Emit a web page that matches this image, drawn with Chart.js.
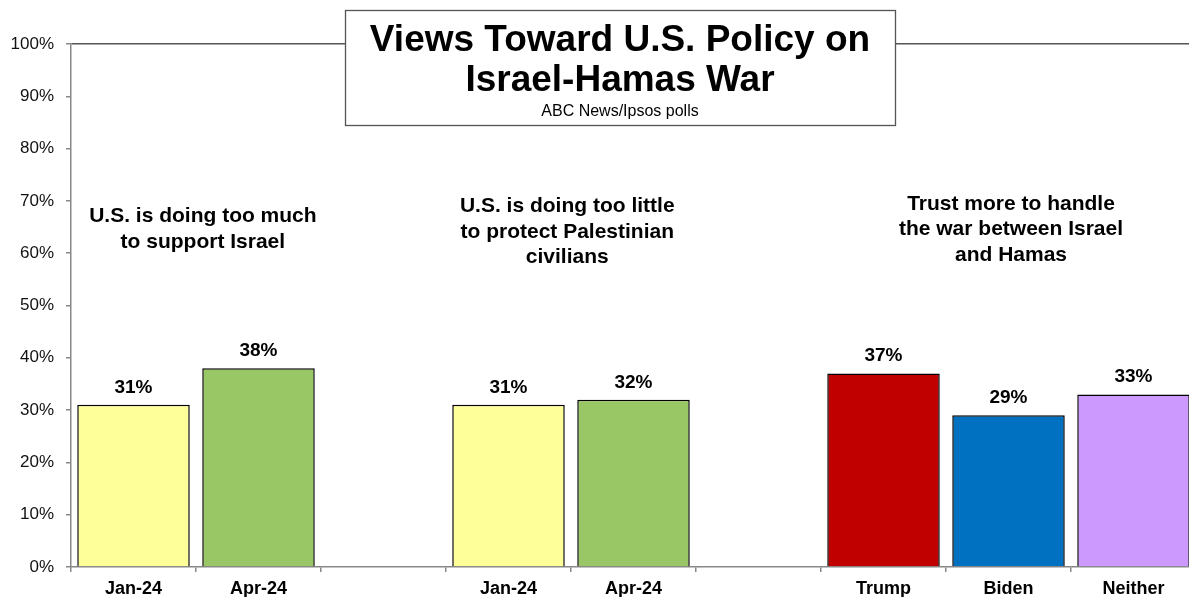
<!DOCTYPE html>
<html>
<head>
<meta charset="utf-8">
<script src="https://cdn.jsdelivr.net/npm/chart.js@4"></script>
<style>
  html, body { margin: 0; padding: 0; background: #fff; overflow: hidden; }
  #wrap { width: 1196px; height: 597px; }
</style>
</head>
<body>
<div id="wrap"><canvas id="pollChart" width="1196" height="597"></canvas></div>
<script>
// categories (blank slots separate the three question groups)
const categories = ['Jan-24', 'Apr-24', '', 'Jan-24', 'Apr-24', '', 'Trump', 'Biden', 'Neither'];
const values = [31, 38, null, 31, 32, null, 37, 29, 33];
const barColors = ['#FFFF99', '#99C766', '#fff', '#FFFF99', '#99C766', '#fff', '#C00000', '#0070C0', '#CC99FF'];
const yTicks = [0, 10, 20, 30, 40, 50, 60, 70, 80, 90, 100];
const groupHeadings = [
  ['U.S. is doing too much', 'to support Israel'],
  ['U.S. is doing too little', 'to protect Palestinian', 'civilians'],
  ['Trust more to handle', 'the war between Israel', 'and Hamas']
];
// where each heading sits, in axis units (category index, percent)
const headingAnchors = [[0.555, 65.9], [3.47, 67.8], [7.02, 68.3]];
const titleLines = ['Views Toward U.S. Policy on', 'Israel-Hamas War'];
const subtitle = 'ABC News/Ipsos polls';

const FONT = '"Liberation Sans", Arial, sans-serif';

const extras = {
  id: 'extras',
  afterDatasetsDraw(chart) {
    const ctx = chart.ctx;
    const x = chart.scales.x, y = chart.scales.y;
    ctx.save();
    ctx.fillStyle = '#000';
    ctx.textAlign = 'center';
    ctx.textBaseline = 'alphabetic';
    // value labels
    ctx.font = 'bold 19px ' + FONT;
    chart.getDatasetMeta(0).data.forEach((bar, i) => {
      if (values[i] == null) return;
      ctx.fillText(values[i] + '%', bar.x, bar.y - 12);
    });
    // group headings
    ctx.font = 'bold 21px ' + FONT;
    groupHeadings.forEach((lines, g) => {
      const cx = x.getPixelForValue(headingAnchors[g][0]);
      const top = y.getPixelForValue(headingAnchors[g][1]);
      lines.forEach((ln, k) => ctx.fillText(ln, cx, top + k * 25.5));
    });
    ctx.restore();
  },
  afterDraw(chart) {
    const ctx = chart.ctx;
    ctx.save();
    // title box
    ctx.fillStyle = '#fff';
    ctx.fillRect(345, 10, 550, 115);
    ctx.strokeStyle = '#555';
    ctx.lineWidth = 1.3;
    ctx.strokeRect(345.5, 10.5, 550, 115);
    ctx.fillStyle = '#000';
    ctx.textAlign = 'center';
    ctx.font = 'bold 37px ' + FONT;
    ctx.fillText(titleLines[0], 620, 51);
    ctx.fillText(titleLines[1], 620, 91);
    ctx.font = '16px ' + FONT;
    ctx.fillText(subtitle, 620, 116);
    ctx.restore();
  }
};

new Chart(document.getElementById('pollChart').getContext('2d'), {
  type: 'bar',
  data: {
    labels: categories,
    datasets: [{
      data: values,
      backgroundColor: barColors,
      borderColor: '#000',
      borderWidth: 1.5,
      categoryPercentage: 1,
      barPercentage: 0.9
    }]
  },
  options: {
    responsive: false,
    animation: false,
    layout: { padding: { top: 44, left: 0, right: 0, bottom: 0 } },
    plugins: { legend: { display: false }, tooltip: { enabled: false } },
    scales: {
      x: {
        afterFit(s) { s.height = 30; },
        grid: {
          offset: true,
          drawOnChartArea: false,
          drawTicks: true,
          tickLength: 5,
          tickColor: '#888',
          lineWidth: 1.5
        },
        border: { display: true, color: '#888', width: 1.5 },
        ticks: {
          color: '#000',
          padding: 6,
          font: { family: FONT, size: 18, weight: 'bold' },
          maxRotation: 0,
          autoSkip: false
        }
      },
      y: {
        min: 0,
        max: 100,
        afterFit(s) { s.width = 71; },
        afterBuildTicks(s) { s.ticks = yTicks.map(v => ({ value: v })); },
        grid: {
          drawTicks: true,
          tickLength: 5,
          tickColor: '#888',
          lineWidth: 1.5,
          color: c => (c.tick && c.tick.value === 100 ? '#555' : 'rgba(0,0,0,0)')
        },
        border: { display: true, color: '#888', width: 1.5 },
        ticks: {
          color: '#111',
          padding: 12,
          font: { family: FONT, size: 17 },
          callback: v => v + '%'
        }
      }
    }
  },
  plugins: [extras]
});
</script>
</body>
</html>
